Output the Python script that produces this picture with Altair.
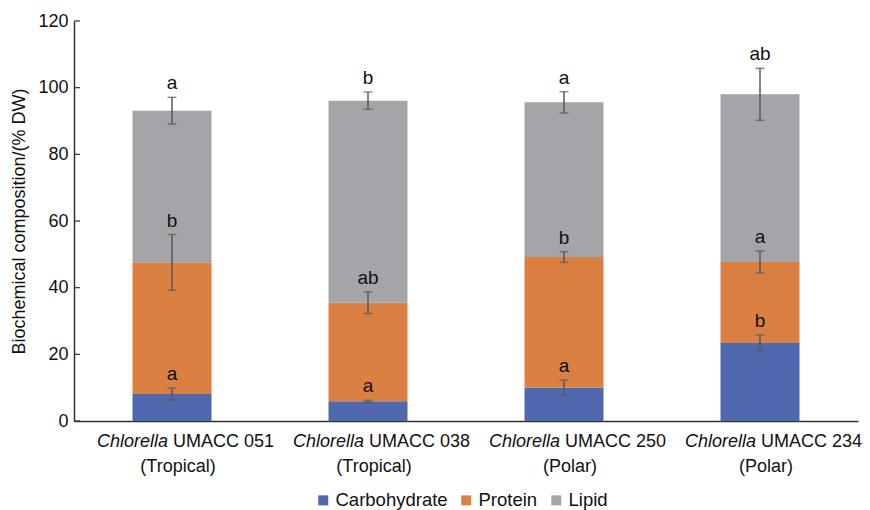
import altair as alt
import pandas as pd

# ---- data ----
strain_ids = ["UMACC 051", "UMACC 038", "UMACC 250", "UMACC 234"]
origins = ["(Tropical)", "(Tropical)", "(Polar)", "(Polar)"]
components = ["Carbohydrate", "Protein", "Lipid"]
colors = ["#5068AD", "#DA8043", "#A5A5A9"]

carb = [8.1, 5.9, 10.0, 23.4]
protein = [39.5, 29.6, 39.2, 24.3]
lipid = [45.5, 60.6, 46.4, 50.3]

carb_err = [1.75, 0.3, 2.25, 2.45]
protein_err = [8.35, 3.25, 1.6, 3.25]
lipid_err = [4.0, 2.6, 3.2, 7.8]

carb_letters = ["a", "a", "a", "b"]
protein_letters = ["b", "ab", "b", "a"]
lipid_letters = ["a", "b", "a", "ab"]

y_ticks = [0, 20, 40, 60, 80, 100, 120]

FONT = "Liberation Sans"
FS_TICK = 18
FS_X = 18
FS_LEG = 18.5

# ---- build tables ----
rows = []
series = [(carb, carb_err, carb_letters), (protein, protein_err, protein_letters),
          (lipid, lipid_err, lipid_letters)]
for i, s in enumerate(strain_ids):
    cum = 0.0
    for k, comp in enumerate(components):
        vals, errs, lets = series[k]
        cum += vals[i]
        rows.append({"strain": s, "component": comp, "order": k, "value": vals[i],
                     "top": cum, "lo": cum - errs[i], "hi": cum + errs[i],
                     "letter": lets[i]})
df = pd.DataFrame(rows)
lab = pd.DataFrame({"strain": strain_ids, "genus": ["Chlorella"] * 4, "origin": origins})
ticks = pd.DataFrame({"v": y_ticks})

xenc = alt.X("strain:N", sort=strain_ids,
             scale=alt.Scale(paddingInner=0, paddingOuter=0),
             axis=alt.Axis(title=None, labels=False, ticks=False, domain=True,
                           domainColor="#333333", domainWidth=1.5))
yscale = alt.Scale(domain=[0, 120], nice=False)

bars = alt.Chart(df).mark_bar(size=79).encode(
    x=xenc,
    y=alt.Y("value:Q", stack="zero", scale=yscale,
            axis=alt.Axis(title="Biochemical composition/(% DW)", values=y_ticks,
                          grid=False, ticks=False, domain=True, domainColor="#333333",
                          domainWidth=1.5, labelPadding=6, titlePadding=9,
                          labelFontSize=FS_TICK, titleFontSize=18, labelFont=FONT,
                          titleFont=FONT, titleFontWeight="normal",
                          labelColor="#111111", titleColor="#111111")),
    color=alt.Color("component:N", sort=components,
                    scale=alt.Scale(domain=components, range=colors),
                    legend=alt.Legend(title=None, orient="none", legendX=240, legendY=470,
                                      direction="horizontal", symbolType="square",
                                      symbolSize=100, symbolStrokeWidth=0,
                                      labelFontSize=FS_LEG, labelFont=FONT,
                                      labelColor="#111111", columnPadding=9,
                                      labelOffset=3)),
    order=alt.Order("order:Q"),
)

err = alt.Chart(df).mark_rule(color="#595959", strokeWidth=1.5).encode(
    x=alt.X("strain:N", sort=strain_ids), y="lo:Q", y2="hi:Q")
cap_lo = alt.Chart(df).mark_tick(color="#595959", size=9, thickness=1.5).encode(
    x=alt.X("strain:N", sort=strain_ids), y="lo:Q")
cap_hi = alt.Chart(df).mark_tick(color="#595959", size=9, thickness=1.5).encode(
    x=alt.X("strain:N", sort=strain_ids), y="hi:Q")
letters = alt.Chart(df).mark_text(dy=-8, baseline="alphabetic", fontSize=19,
                                  font=FONT, color="#111111").encode(
    x=alt.X("strain:N", sort=strain_ids), y="hi:Q", text="letter:N")

ytick_marks = alt.Chart(ticks).mark_rule(color="#333333", strokeWidth=1.2).encode(
    y=alt.Y("v:Q", scale=yscale), x=alt.value(0), x2=alt.value(6))

genus = alt.Chart(lab).mark_text(align="right", baseline="alphabetic", dx=-4,
                                 fontSize=FS_X, font=FONT, fontStyle="italic",
                                 color="#111111").encode(
    x=alt.X("strain:N", sort=strain_ids), y=alt.value(426), text="genus:N")
strain_txt = alt.Chart(lab).mark_text(align="left", baseline="alphabetic", dx=1,
                                      fontSize=FS_X, font=FONT, color="#111111").encode(
    x=alt.X("strain:N", sort=strain_ids), y=alt.value(426), text="strain:N")
origin_txt = alt.Chart(lab).mark_text(align="center", baseline="alphabetic", dx=6,
                                      fontSize=FS_X, font=FONT, color="#111111").encode(
    x=alt.X("strain:N", sort=strain_ids), y=alt.value(451), text="origin:N")

chart = alt.layer(bars, err, cap_lo, cap_hi, letters, ytick_marks,
                  genus, strain_txt, origin_txt).properties(
    width=784, height=400,
    background="white",
    autosize=alt.AutoSizeParams(type="none"),
    padding={"left": 66, "top": 13, "right": 4, "bottom": 89},
).configure_view(stroke=None)

chart.save("out.html", embed_options={"renderer": "svg", "actions": False})
